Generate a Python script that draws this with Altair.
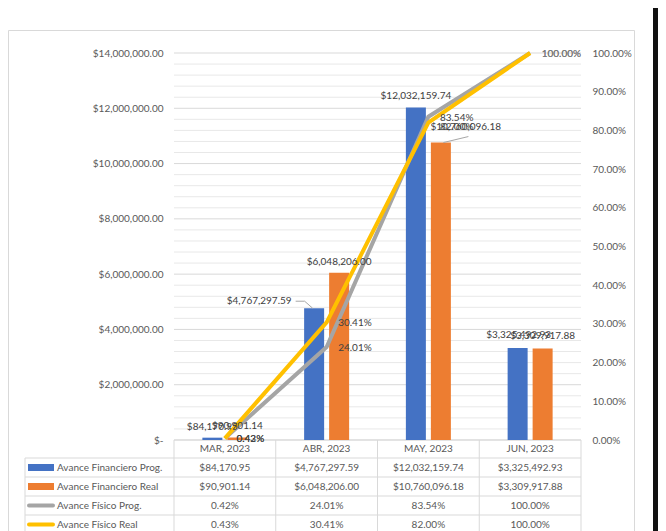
import altair as alt
import pandas as pd

# ---------------- data ----------------
cats = ["MAR, 2023", "ABR, 2023", "MAY, 2023", "JUN, 2023"]
series = ["Avance Financiero Prog.", "Avance Financiero Real",
          "Avance Físico Prog.", "Avance Físico Real"]
fin_prog = [84170.95, 4767297.59, 12032159.74, 3325492.93]
fin_real = [90901.14, 6048206.00, 10760096.18, 3309917.88]
fis_prog = [0.0042, 0.2401, 0.8354, 1.0000]
fis_real = [0.0043, 0.3041, 0.8200, 1.0000]
colors = ["#4472C4", "#ED7D31", "#A5A5A5", "#FFC000"]
money_ticks = [0, 2e6, 4e6, 6e6, 8e6, 10e6, 12e6, 14e6]
pct_ticks = [0, 0.1, 0.2, 0.3, 0.4, 0.5, 0.6, 0.7, 0.8, 0.9, 1.0]

# ---------------- layout (styling) ----------------
W, H = 407, 387
BAND = W / 4
ROW_H = 19
FONT = "Lato"
TXT = "#595959"
LBL = "#404040"
GRID = "#d9d9d9"

rows = []
for i, vals in enumerate([fin_prog, fin_real, fis_prog, fis_real]):
    for j, (c, v) in enumerate(zip(cats, vals)):
        rows.append({"cat": c, "ci": j, "series": series[i], "row": i, "value": v})
df = pd.DataFrame(rows)

grid_df = pd.DataFrame({"v": [k * 4e5 for k in range(36)]})
grid_df["major"] = (grid_df["v"] % 2e6 == 0)

MONEY_MAX = 14e6
x_scale = alt.Scale(domain=cats, paddingInner=0, paddingOuter=0)
ym_scale = alt.Scale(domain=[0, MONEY_MAX], nice=False, zero=True)
yp_scale = alt.Scale(domain=[0, 1], nice=False, zero=True)
col_scale = alt.Scale(domain=series, range=colors)

base = alt.Chart(df)

nbsp = "\u00a0" * 8
left_axis = alt.Axis(values=money_ticks, labelExpr=f"datum.value == 0 ? '$-{nbsp}' : format(datum.value, '$,.2f')",
                     tickSize=0, labelPadding=11, domain=False, grid=False, title=None,
                     labelFont=FONT, labelFontSize=10, labelColor=TXT)
right_axis = alt.Axis(orient="right", values=pct_ticks, format=".2%", tickSize=0, labelPadding=11,
                      domain=False, grid=False, title=None,
                      labelFont=FONT, labelFontSize=10, labelColor=TXT)
top_axis = alt.Axis(orient="top", title=None, labelAngle=0, labelPadding=5, tickSize=3,
                    tickColor=GRID, domainColor=GRID, tickBand="extent", grid=False,
                    labelFont=FONT, labelFontSize=10, labelColor=TXT)

# gridlines
gridlines = alt.Chart(grid_df).mark_rule(strokeWidth=1).encode(
    y=alt.Y("v:Q", scale=ym_scale, axis=left_axis),
    x=alt.value(0), x2=alt.value(W),
    color=alt.condition("datum.major", alt.value(GRID), alt.value("#e8e8e8")),
)

bars = base.transform_filter("datum.row < 2").mark_bar().encode(
    x=alt.X("cat:N", sort=cats, scale=x_scale, axis=top_axis),
    xOffset=alt.XOffset("series:N", sort=series[:2],
                        scale=alt.Scale(domain=series[:2], paddingInner=0.2, paddingOuter=0,
                                        range=[BAND / 2 - 22.5, BAND / 2 + 22.5])),
    y=alt.Y("value:Q", scale=ym_scale, axis=None),
    color=alt.Color("series:N", scale=col_scale, legend=None),
)

line_gray = base.transform_filter("datum.row == 2").mark_line(strokeWidth=4, strokeCap="butt").encode(
    x=alt.X("cat:N", sort=cats, scale=x_scale, axis=None),
    y=alt.Y("value:Q", scale=yp_scale, axis=right_axis),
    color=alt.value(colors[2]),
)
line_yel = base.transform_filter("datum.row == 3").mark_line(strokeWidth=4, strokeCap="butt").encode(
    x=alt.X("cat:N", sort=cats, scale=x_scale, axis=None),
    y=alt.Y("value:Q", scale=yp_scale, axis=None),
    color=alt.value(colors[3]),
)

# data labels: (row, category index) -> (dx, dy, align, color)
BAR_DX = 12.5
label_style = {}
for j in range(4):
    label_style[(0, j)] = (-BAR_DX, -11, "center", LBL)
    label_style[(1, j)] = (BAR_DX, -11, "center", LBL)
    label_style[(2, j)] = (11.5, 1, "left", LBL)
    label_style[(3, j)] = (11.5, 1, "left", LBL)
label_style[(0, 1)] = (-35, -7, "right", LBL)
label_style[(1, 2)] = (BAR_DX - 10.5, -16, "left", LBL)
label_style[(0, 3)] = (-BAR_DX + 1, -13, "center", LBL)
label_style[(1, 3)] = (BAR_DX, -13, "center", LBL)
label_style[(3, 2)] = (11.5, 4, "left", LBL)
label_style[(2, 3)] = (11.5, 1, "left", "#7a7a7a")
label_style[(3, 3)] = (11.5, 1, "left", "#7a7a7a")

label_layers = []
for (r, j), (dx, dy, al, colr) in label_style.items():
    ysc = ym_scale if r < 2 else yp_scale
    fmt = "format(datum.value, '$,.2f')" if r < 2 else "format(datum.value, '.2%')"
    label_layers.append(
        base.transform_filter(f"datum.row == {r} && datum.ci == {j}")
        .transform_calculate(lab=fmt)
        .mark_text(dx=dx, dy=dy, align=al, baseline="middle", font=FONT, fontSize=10, color=colr)
        .encode(x=alt.X("cat:N", sort=cats, scale=x_scale, axis=None),
                y=alt.Y("value:Q", scale=ysc, axis=None),
                text="lab:N")
    )

# leader lines for the two moved labels: (row, ci, xOff, x2Off, yOff, y2Off)
leaders = [(0, 1, -14, -22, 0, -7), (0, 1, -22, -31, -7, -7), (1, 2, 15, 40, 0, -6)]
leader_layers = []
for r, j, xo, x2o, yo, y2o in leaders:
    leader_layers.append(
        base.transform_filter(f"datum.row == {r} && datum.ci == {j}")
        .mark_rule(color="#a6a6a6", strokeWidth=1,
                   xOffset=xo, x2Offset=x2o, yOffset=yo, y2Offset=y2o)
        .encode(x=alt.X("cat:N", sort=cats, scale=x_scale, axis=None), x2=alt.X2("cat:N"),
                y=alt.Y("value:Q", scale=ym_scale, axis=None), y2=alt.Y2("value:Q"))
    )

# ---------------- data table below the plot ----------------
T0 = H + 18  # top of first data row
tbl = base.transform_calculate(
    ypix=f"{T0} + {ROW_H} * datum.row + {ROW_H / 2}",
    ytop=f"{T0} + {ROW_H} * datum.row + {ROW_H / 2} - 3.5",
    ybot=f"{T0} + {ROW_H} * datum.row + {ROW_H / 2} + 3.5",
    lab="datum.row < 2 ? format(datum.value, '$,.2f') : format(datum.value, '.2%')",
)
tbl_text = tbl.mark_text(font=FONT, fontSize=10, color=TXT, baseline="middle").encode(
    x=alt.X("cat:N", sort=cats, scale=x_scale, axis=None),
    y=alt.Y("ypix:Q", scale=None),
    text="lab:N",
)
hdr_text = base.transform_filter("datum.row == 0").mark_text(
    font=FONT, fontSize=10, color=TXT, baseline="middle").encode(
    x=alt.X("cat:N", sort=cats, scale=x_scale, axis=None),
    y=alt.value(H + 9),
    text="cat:N",
)
leg_names = tbl.transform_filter("datum.ci == 0").mark_text(
    font=FONT, fontSize=10, color=TXT, baseline="middle", align="left").encode(
    x=alt.value(-117),
    y=alt.Y("ypix:Q", scale=None),
    text="series:N",
)
leg_rect = tbl.transform_filter("datum.ci == 0 && datum.row < 2").mark_rect().encode(
    x=alt.value(-146), x2=alt.value(-120),
    y=alt.Y("ytop:Q", scale=None), y2="ybot:Q",
    color=alt.Color("series:N", scale=col_scale, legend=None),
)
leg_line = tbl.transform_filter("datum.ci == 0 && datum.row >= 2").mark_rule(
    strokeWidth=4, strokeCap="round").encode(
    x=alt.value(-145), x2=alt.value(-121),
    y=alt.Y("ypix:Q", scale=None),
    color=alt.Color("series:N", scale=col_scale, legend=None),
)

# table borders
hl = pd.DataFrame({"y": [H] + [T0 + ROW_H * k for k in range(5)],
                   "x0": [0] + [-149] * 5})
tbl_h = alt.Chart(hl).mark_rule(color=GRID, strokeWidth=1).encode(
    y=alt.Y("y:Q", scale=None), x=alt.X("x0:Q", scale=None), x2=alt.value(W))
vl = pd.DataFrame({"x": [-149] + [W * k / 4 for k in range(5)],
                   "y0": [T0] + [H] * 5})
tbl_v = alt.Chart(vl).mark_rule(color=GRID, strokeWidth=1).encode(
    x=alt.X("x:Q", scale=None), y=alt.Y("y0:Q", scale=None), y2=alt.value(T0 + ROW_H * 5))

# outer chart frame and window edge
frame = alt.Chart(pd.DataFrame({"a": [0]})).mark_rect(fill=None, stroke=GRID, strokeWidth=1).encode(
    x=alt.value(-165.5), x2=alt.value(460.5), y=alt.value(-22.5), y2=alt.value(560))
edge = alt.Chart(pd.DataFrame({"a": [0]})).mark_rule(color="#111111", strokeWidth=5).encode(
    x=alt.value(481.5), y=alt.value(-60), y2=alt.value(560))

chart = alt.layer(
    frame, gridlines, tbl_h, tbl_v, bars, line_gray, line_yel, *leader_layers, *label_layers,
    tbl_text, hdr_text, leg_names, leg_rect, leg_line, edge,
).resolve_scale(y="independent").properties(
    width=W, height=H,
    autosize=alt.AutoSizeParams(type="none"),
    padding={"left": 166, "top": 45, "right": 77, "bottom": 91},
).configure_view(stroke=None)

chart.save("out.html", embed_options={"renderer": "svg", "actions": False})
